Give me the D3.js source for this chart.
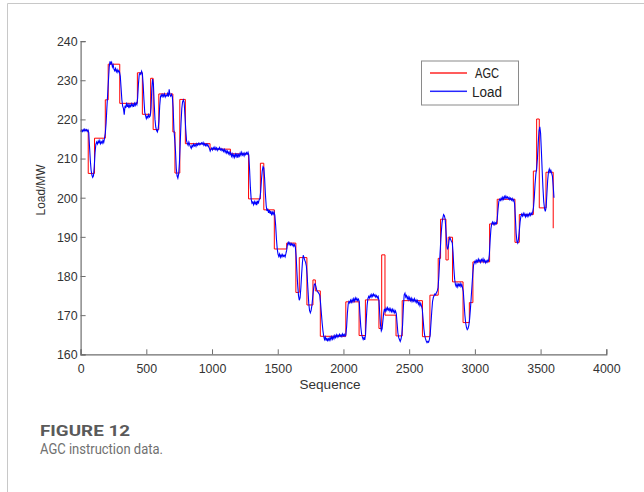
<!DOCTYPE html>
<html><head><meta charset="utf-8">
<script src="https://cdn.jsdelivr.net/npm/d3@7"></script>
<style>
html,body{margin:0;padding:0;background:#fff;}
svg{display:block;}
</style></head>
<body><svg id="c" width="644" height="492"></svg>
<script>
// AGC instruction: step changes [sequence, MW]
const agcSteps = [
 [0,217.2],[58,206.2],[106,215.2],[188,225.0],[210,234.1],[298,224.1],[432,231.9],[470,221.3],
 [533,230.5],[552,217.4],[595,226.5],[702,216.8],[718,206.3],[755,225.1],[797,213.8],[985,212.4],
 [1140,211.2],[1278,199.7],[1368,208.8],[1394,196.9],[1474,186.9],[1568,188.4],[1638,175.8],[1664,184.7],
 [1722,172.6],[1768,179.0],[1786,176.2],[1824,164.6],[2018,173.4],[2119,164.8],[2167,173.9],[2270,166.6],
 [2291,185.4],[2316,170.0],[2400,164.7],[2447,173.7],[2601,164.5],[2658,175.1],[2721,184.5],[2739,194.5],
 [2780,184.1],[2797,189.9],[2830,178.5],[2910,168.1],[2958,173.2],[2985,183.6],[3112,193.3],[3170,199.6],
 [3305,188.6],[3338,195.7],[3445,206.8],[3470,220.1],[3490,197.4],[3541,206.5],[3596,192.2]
];
// Load: measured samples, first at sequence 2, one every 6 samples
const loadFirstSeq = 2, loadSeqStep = 6;
const loadValues = [
 216.8,217.3,216.9,217.4,217.0,217.5,217.1,217.4,216.9,217.3,
 216.6,213,209.5,207,205.8,205.2,205.6,208,211.5,213.6,
 214.2,213.7,214.5,214.0,214.6,213.8,214.3,213.9,214.6,214.1,
 215.2,216.5,219,223,226.5,230,233.5,234.8,234.2,234.6,
 233.4,233.9,232.8,232.4,233.0,232.2,232.7,232.0,232.5,232.1,
 231,228,225,223.4,222.8,221.2,223.5,222.9,224.3,223.2,
 223.8,222.9,223.7,223.3,224.0,223.4,223.9,223.2,224.1,223.6,
 224.2,223.8,225.5,229,231.4,231.8,231.5,232.3,231.7,229,
 225,221.8,221.0,220.2,220.8,220.4,221.2,220.6,220.9,223,
 228,230.3,229,224,220,218,217.2,216.8,217.5,219.5,
 223.5,225.8,226.3,225.8,226.4,225.9,226.5,225.7,226.2,226.0,
 226.6,225.8,227.7,226.2,225.9,226.4,225.8,223,217.5,215,
 212,207.5,205.6,205.0,206.0,209,214,219,222.8,224.5,
 225.0,224.3,221,217.5,214.6,213.9,213.4,214.2,213.5,213.0,
 212.6,213.4,213.0,213.7,213.2,213.6,213.1,213.8,213.4,213.9,
 213.5,213.9,213.6,214.0,213.7,214.1,213.4,213.8,213.3,213.7,
 213.2,213.6,213.0,212.6,211.9,212.4,212.7,212.2,212.8,212.4,
 212.9,212.3,212.7,212.1,212.6,212.3,212.8,212.2,212.5,212.0,
 212.4,211.8,212.3,211.6,212.1,211.4,211.9,211.2,211.7,211.0,
 211.5,210.6,211.2,210.4,211.0,210.3,211.1,210.5,211.3,210.2,
 211.0,210.6,211.4,210.8,211.6,210.9,211.3,210.7,211.4,211.0,
 211.5,211.1,211.6,210.8,207,202.5,199.6,198.6,198.9,198.2,
 199.0,198.4,198.9,198.1,199.2,198.5,199.4,199.8,201.5,204.5,
 206.8,207.9,207.6,205,201,198,196.6,197.2,196.1,196.8,
 195.9,196.6,195.5,196.3,195.8,196.4,195.5,193,189.5,187,
 185.6,185.0,185.6,184.8,185.4,184.9,185.5,185.0,185.3,184.9,
 185.7,186.6,188.1,188.6,188.0,188.5,187.9,188.3,187.8,188.2,
 187.6,188.0,187.4,185,181,177.5,175,173.8,174.5,177,
 180.5,183.5,185.3,184.7,184.0,183.5,182.5,180,176.5,173,
 171.2,170.6,171.2,172.5,174.5,176.5,177.8,178.0,177.4,176.5,
 176.0,175.8,175.5,175.0,173,170.5,168,166,164.6,163.8,
 164.4,163.5,164.2,163.3,164.0,163.6,164.3,163.7,164.5,163.9,
 164.6,164.0,164.8,164.3,165.0,164.4,164.9,164.5,165.1,164.6,
 165.0,164.5,165.2,164.7,165.1,164.6,165.0,167,170.5,172.8,
 173.5,173.1,173.8,173.3,174.0,173.4,174.2,173.6,174.4,173.8,
 174.3,173.7,174.1,173.5,170,167,165.2,164.4,163.8,164.3,
 163.7,165,169,172.5,174.2,174.8,174.4,175.1,174.6,175.3,
 174.8,175.4,174.9,175.2,174.6,175.0,174.4,174.8,173.8,170.5,
 167.5,166.0,166.5,168.5,170.5,171.6,171.0,171.8,171.2,171.9,
 171.3,171.7,171.0,171.6,170.9,171.5,170.8,171.3,170.6,171.1,
 170.4,168,165.5,164.3,163.8,163.3,163.9,165,167.5,172,
 175.2,175.6,174.6,175.0,174.2,174.7,173.9,174.5,173.7,174.3,
 173.5,174.1,173.6,174.2,173.4,173.9,173.2,173.7,172.8,173.3,
 172.4,173.0,172.3,171.5,169,166.5,164.8,164.0,163.4,163.0,
 163.3,163.1,163.8,165,168,171,173.5,174.5,175.0,175.4,
 175.2,175.8,176.2,177.0,180,184,187.5,191,193.5,194.8,
 195.7,195.4,194.5,191.5,188,186.8,187.5,189.2,189.8,189.3,
 188.8,188.5,186,182,179.2,177.8,177.3,178.0,177.2,177.9,
 177.5,178.1,177.3,177.8,177.0,176,173,170,168,166.9,
 166.3,166.6,167.4,169,171.5,174.5,177.5,180.5,182.8,183.4,
 183.9,183.3,184.0,183.6,184.3,183.7,184.1,183.5,184.2,183.8,
 184.4,183.6,184.1,183.4,183.9,183.5,184.0,183.8,185.5,189,
 192,193.3,193.8,193.2,193.7,193.1,193.6,193.4,194.5,197,
 199,199.6,199.3,199.9,199.4,200.1,199.6,200.3,199.8,200.4,
 199.9,200.2,199.7,200.1,199.5,199.9,199.4,199.8,199.2,199.5,
 198.5,195,191,188.8,188.4,189.5,191.5,193.8,195.2,195.8,
 195.3,196.0,195.4,195.9,195.1,195.7,195.2,195.8,195.3,196.0,
 195.5,196.1,195.7,196.3,197.5,200,203.5,206,207.5,210,
 214,217,218.1,216.5,212,207,202.5,199,197.2,196.5,
 197.5,201,204.5,206.6,207.3,206.5,207.0,206.3,205.5,203,
 200
];
const xTicks = [0,500,1000,1500,2000,2500,3000,3500,4000];
const yTicks = [160,170,180,190,200,210,220,230,240];
const seriesNames = ["AGC","Load"];
const seriesColors = ["#ff0000","#0000ff"];
const xLabel = "Sequence", yLabel = "Load/MW";
const figTitle = "FIGURE 12", figCaption = "AGC instruction data.";

const svg = d3.select("#c");
svg.append("rect").attr("width",644).attr("height",492).attr("fill","#fff");
// frame
svg.append("line").attr("x1",7.5).attr("x2",644).attr("y1",3.5).attr("y2",3.5).attr("stroke","#c8c8c8");
svg.append("line").attr("x1",7.5).attr("x2",7.5).attr("y1",3.5).attr("y2",492).attr("stroke","#c8c8c8");

const x = d3.scaleLinear().domain([0,4000]).range([80.6,606.3]);
const y = d3.scaleLinear().domain([160,240]).range([354.3,41.1]);
const font = "'Liberation Sans', Arial, sans-serif";

// narrow the text horizontally like the reference's gothic face
function squeeze(sel, perChar){
  sel.each(function(){
    const t = d3.select(this);
    const n = t.text().length;
    t.attr("textLength", n*perChar).attr("lengthAdjust","spacingAndGlyphs");
  });
}

const load = loadValues.map((v,i)=>[loadFirstSeq + i*loadSeqStep, v]);

const g = svg.append("g");
g.append("path").datum(agcSteps)
 .attr("d", d3.line().x(d=>x(d[0])).y(d=>y(d[1])).curve(d3.curveStepAfter))
 .attr("fill","none").attr("stroke",seriesColors[0]).attr("stroke-width",1);
g.append("path").datum(load)
 .attr("d", d3.line().x(d=>x(d[0])).y(d=>y(d[1])))
 .attr("fill","none").attr("stroke",seriesColors[1]).attr("stroke-width",1.1);

// axes
const xa = svg.append("g").attr("transform",`translate(0,${y(160)})`)
 .call(d3.axisBottom(x).tickValues(xTicks).tickSize(-5).tickPadding(9).tickFormat(d3.format("d")));
const ya = svg.append("g").attr("transform",`translate(${x(0)},0)`)
 .call(d3.axisLeft(y).tickValues(yTicks).tickSize(-5).tickPadding(3).tickFormat(d3.format("d")));
[xa,ya].forEach(a=>{
  a.select(".domain").attr("stroke","#6e6e6e").attr("stroke-width",1.2);
  a.selectAll(".tick line").attr("stroke","#6e6e6e");
  a.selectAll("text").attr("fill","#333").attr("font-family",font).attr("font-size",13.5);
  squeeze(a.selectAll(".tick text"), 6.9);
});
ya.selectAll(".tick text").attr("x",-3);

svg.append("text").attr("x",330).attr("y",389).attr("text-anchor","middle")
 .attr("font-family",font).attr("font-size",13.5).attr("fill","#333").text(xLabel)
 .attr("textLength",61).attr("lengthAdjust","spacingAndGlyphs");
svg.append("text").attr("transform","translate(45,190) rotate(-90)").attr("text-anchor","middle")
 .attr("font-family",font).attr("font-size",13.5).attr("fill","#333").text(yLabel)
 .attr("textLength",51).attr("lengthAdjust","spacingAndGlyphs");

// legend
const lg = svg.append("g");
lg.append("rect").attr("x",421.5).attr("y",61).attr("width",97).attr("height",44)
 .attr("fill","#fff").attr("stroke","#8a8a8a");
const legW = [24, 30];
seriesNames.forEach((n,i)=>{
  const yy = 73 + i*18.3;
  lg.append("rect").attr("x",430).attr("y",yy-0.75).attr("width",37).attr("height",1.5)
    .attr("fill",seriesColors[i]).attr("fill-opacity",0.85);
  lg.append("text").attr("x",487).attr("y",yy+5.3).attr("text-anchor","middle")
    .attr("font-family",font).attr("font-size",14).attr("fill","#222").text(n)
    .attr("textLength",legW[i]).attr("lengthAdjust","spacingAndGlyphs");
});

// caption
svg.append("text").attr("x",40).attr("y",436).attr("font-family","Roboto, sans-serif")
 .attr("font-weight","bold").attr("font-size",14.5).attr("fill","#5a5a5a").text(figTitle)
 .attr("textLength",90).attr("lengthAdjust","spacingAndGlyphs");
svg.append("text").attr("x",40).attr("y",453.5).attr("font-family","Roboto, sans-serif")
 .attr("font-size",14.5).attr("fill","#707070").text(figCaption)
 .attr("textLength",123).attr("lengthAdjust","spacingAndGlyphs");
</script></body></html>
